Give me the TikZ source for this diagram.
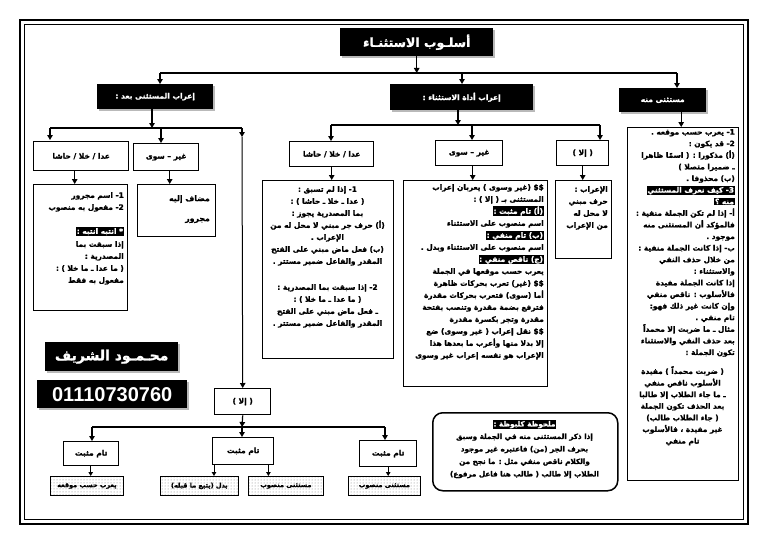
\documentclass[tikz,border=0pt]{standalone}
\usepackage{fontspec}
\newfontfamily\arabicfont[Script=Arabic, BoldFeatures={FakeBold=1.3}]{DejaVu Sans}
\newfontfamily\latinfont{Liberation Sans}
\TeXXeTstate=1
\usetikzlibrary{arrows.meta,patterns,shadows}
\newcommand{\AR}[1]{\beginR #1\endR}
\newcommand{\HL}[1]{{\setlength{\fboxsep}{0.8pt}\colorbox{black}{\textcolor{white}{\beginR #1\endR}}}}
\tikzset{
 arr/.style={-{Triangle[length=5pt,width=5.5pt]}, line width=1.2pt},
 sarr/.style={-{Triangle[length=4pt,width=4.5pt]}, line width=1pt},
 ln/.style={line width=1.2pt},
 bx/.style={draw, line width=1.4pt, fill=white, inner sep=0pt, anchor=north west, font=\arabicfont\bfseries\fontsize{7.5}{12}\selectfont},
 blk/.style={fill=black, text=white, inner sep=0pt, anchor=north west, drop shadow={shadow xshift=2pt, shadow yshift=-2pt, fill=gray!55, opacity=1}},
 tx/.style={inner sep=0pt, font=\arabicfont\bfseries\fontsize{7.4}{12}\selectfont},
 dotbox/.style={draw, line width=0.8pt, pattern=dots, pattern color=gray, inner sep=0pt, anchor=north west, font=\arabicfont\bfseries\fontsize{6.5}{8}\selectfont},
}
\begin{document}
\begin{tikzpicture}[x=1pt,y=-1pt]
\useasboundingbox[fill=white] (0,0) rectangle (768,543);
% frame
\draw[line width=1.5pt] (20,20) rectangle (748,524);
\draw[line width=0.7pt] (24.5,24.5) rectangle (743.5,519.5);
% title
\node[blk, minimum width=153pt, minimum height=28pt, font=\arabicfont\bfseries\fontsize{12.5}{14}\selectfont] (title) at (340,28) {\AR{أسلـوب الاستثنـاء}};
% level 2
\node[blk, minimum width=116pt, minimum height=25pt, font=\arabicfont\bfseries\fontsize{7.5}{9}\selectfont] (B1) at (97,84) {\AR{إعراب المستثنى بعد :}};
\node[blk, minimum width=143pt, minimum height=26pt, font=\arabicfont\bfseries\fontsize{7.5}{9}\selectfont] (B2) at (390,84) {\AR{إعراب أداة الاستثناء :}};
\node[blk, minimum width=87pt, minimum height=24pt, font=\arabicfont\bfseries\fontsize{7.5}{9}\selectfont] (B3) at (619,88) {\AR{مستثنى منه}};
% top bus
\coordinate (busL) at (160,73);
\coordinate (busM) at (462,73);
\coordinate (busR) at (677,73);
\draw[arr] (title.south) -- (title.south |- busL);
\draw[ln] (busL) -- (busR);
\draw[arr] (busL) -- (busL |- B1.north);
\draw[arr] (busM) -- (busM |- B2.north);
\draw[arr] (busR) -- (busR |- B3.north);

% ===== left branch
\node[bx, minimum width=95pt, minimum height=29pt] (L1) at (33,141) {\AR{عدا / خلا / حاشا}};
\node[bx, minimum width=65pt, minimum height=27pt] (L2) at (133,143) {\AR{غير – سوى}};
\node[bx, minimum width=94pt, minimum height=126pt] (L3) at (33,184) {};
\node[bx, minimum width=78pt, minimum height=52pt] (L4) at (137,184) {};
\node[bx, minimum width=56pt, minimum height=26pt] (E) at (214,388) {\AR{( إلا )}};
\coordinate (lbL) at (50,128);
\coordinate (lbT) at (152,128);
\coordinate (lbM) at (161,128);
\coordinate (lbR) at (242,128);
\coordinate (lbR2) at (242,137);
\coordinate (lbLe) at (50,140);
\draw[arr] (lbT |- B1.south) -- (lbT);
\draw[ln] (lbL) -- (lbR);
\draw[arr] (lbL) -- (lbLe);
\draw[arr] (lbM) -- (lbM |- L2.north);
\draw[arr] (lbR) -- (lbR2);
\draw[line width=1pt, -{Triangle[length=5pt,width=5.5pt]}] (lbR2) -- (E.north);
\draw[arr] ([xshift=-6.5pt]L1.south) -- ([xshift=-6.5pt]L1.south |- L3.north);
\draw[arr] ([xshift=3.5pt]L2.south) -- ([xshift=3.5pt]L2.south |- L4.north);
\node[tx, anchor=north east, align=right] (L3t) at (124,192) {\AR{1- اسم مجرور}\\ \AR{2- مفعول به منصوب}\\[12pt] \HL{* انتبه انتبه :}\\[1pt] \AR{إذا سبقت بما}\\ \AR{المصدرية :}\\ \AR{( ما عدا ـ ما خلا ) :}\\ \AR{مفعول به فقط}};
\node[tx, anchor=north east, align=right, font=\arabicfont\bfseries\fontsize{7.8}{12}\selectfont] (L4t) at (210,195) {\AR{مضاف إليه}\\[8pt] \AR{مجرور}};

% ===== middle branch
\node[bx, minimum width=84pt, minimum height=25pt] (M1) at (289,141) {\AR{عدا / خلا / حاشا}};
\node[bx, minimum width=67pt, minimum height=25pt] (G1) at (435,140) {\AR{غير – سوى}};
\node[bx, minimum width=52pt, minimum height=25pt] (I1) at (556,140) {\AR{( إلا )}};
\node[bx, minimum width=131pt, minimum height=178pt] (M2) at (262,180) {};
\node[bx, minimum width=144pt, minimum height=206pt] (G2) at (403,180) {};
\node[bx, minimum width=56pt, minimum height=78pt] (I2) at (555,180) {};
\coordinate (mbT) at (458,125);
\coordinate (mbL) at (331,125);
\coordinate (mbG) at (472,125);
\coordinate (mbR) at (600,125);
\draw[arr] (mbT |- B2.south) -- (mbT);
\draw[ln] (mbL) -- (mbR);
\draw[arr] (mbL) -- (mbL |- M1.north);
\draw[arr] (mbG) -- (mbG |- G1.north);
\draw[arr] (mbR) -- (mbR |- I1.north);
\draw[arr] (M1.south) -- (M1.south |- M2.north);
\draw[arr] ([xshift=3.5pt]G1.south) -- ([xshift=3.5pt]G1.south |- G2.north);
\draw[arr] (I1.south) -- (I1.south |- I2.north);
\node[tx, anchor=north, align=center] (M2t) at (327.5,186) {\AR{1- إذا لم تسبق :}\\ \AR{( عدا ـ خلا ـ حاشا ) :}\\ \AR{بما المصدرية يجوز :}\\ \AR{(أ) حرف جر مبني لا محل له من}\\ \AR{الإعراب .}\\ \AR{(ب) فعل ماض مبني على الفتح}\\ \AR{المقدر والفاعل ضمير مستتر .}\\[14pt] \AR{2- إذا سبقت بما المصدرية :}\\ \AR{( ما عدا ـ ما خلا ) :}\\ \AR{ـ فعل ماض مبني على الفتح}\\ \AR{المقدر والفاعل ضمير مستتر .}};
\node[tx, anchor=north east, align=right] (G2t) at (544,184) {\AR{\$\$ (غير وسوى ) يعربان إعراب}\\ \AR{المستثنى بـ ( إلا ) :}\\ \HL{(أ) تام مثبت :}\\ \AR{اسم منصوب على الاستثناء}\\ \HL{(ب) تام منفي :}\\ \AR{اسم منصوب على الاستثناء وبدل .}\\ \HL{(ج) ناقص منفي :}\\ \AR{يعرب حسب موقعها في الجملة}\\ \AR{\$\$ (غير) تعرب بحركات ظاهرة}\\ \AR{أما (سوى) فتعرب بحركات مقدرة}\\ \AR{فترفع بضمة مقدرة وتنصب بفتحة}\\ \AR{مقدرة وتجر بكسرة مقدرة}\\ \AR{\$\$ نقل إعراب ( غير وسوى) ضع}\\ \AR{إلا بدلا منها وأعرب ما بعدها هذا}\\ \AR{الإعراب هو نفسه إعراب غير وسوى}};
\node[tx, anchor=north east, align=right] (I2t) at (608,186) {\AR{الإعراب :}\\ \AR{حرف مبني}\\ \AR{لا محل له}\\ \AR{من الإعراب}};

% ===== right branch
\node[bx, minimum width=111pt, minimum height=353pt] (R) at (627,127) {};
\draw[arr] ([xshift=18.5pt]B3.south) -- ([xshift=18.5pt]B3.south |- R.north);
\node[tx, anchor=north east, align=right, font=\arabicfont\bfseries\fontsize{7.4}{11.6}\selectfont] (Ra) at (735,129) {\AR{1- يعرب حسب موقعه .}\\ \AR{2- قد يكون :}\\ \AR{(أ) مذكورا : ( اسمًا ظاهرا}\\ \AR{ـ ضميرا متصلا )}\\ \AR{(ب) محذوفا .}\\ \HL{3- كيف نعرف المستثني}\\ \HL{منه ؟}\\ \AR{أ- إذا لم تكن الجملة منفية :}\\ \AR{فالمؤكد أن المستثنى منه}\\ \AR{موجود .}\\ \AR{ب- إذا كانت الجملة منفية :}\\ \AR{من خلال حذف النفي}\\ \AR{والاستثناء :}\\ \AR{إذا كانت الجملة مفيدة}\\ \AR{فالأسلوب :  ناقص منفي}\\ \AR{وإن كانت غير ذلك فهو:}\\ \AR{تام منفي .}\\ \AR{مثال ـ ما ضربت إلا محمداً}\\ \AR{بعد حذف النفي والاستثناء}\\ \AR{تكون الجملة :}};
\node[tx, anchor=north, align=center, font=\arabicfont\bfseries\fontsize{7.4}{11.6}\selectfont] (Rb) at (682.5,366) {\AR{( ضربت محمداً ) مفيدة}\\ \AR{الأسلوب ناقص منفي}\\ \AR{ـ ما جاء الطلاب إلا طالبا}\\ \AR{بعد الحذف تكون الجملة}\\ \AR{( جاء الطلاب طالب)}\\ \AR{غير مفيدة ، فالأسلوب}\\ \AR{تام منفي}};

% ===== name & phone
\node[blk, minimum width=133pt, minimum height=29pt, font=\arabicfont\bfseries\fontsize{14}{16}\selectfont] (name) at (45,342) {\AR{محـمـود الشريف}};
\node[blk, minimum width=150pt, minimum height=28pt, font=\latinfont\bfseries\fontsize{20}{22}\selectfont] (phone) at (37,380) {01110730760};

% ===== bottom subtree
\node[bx, minimum width=55pt, minimum height=24pt] (T1) at (63,441) {\AR{تام مثبت}};
\node[bx, minimum width=61pt, minimum height=27pt] (T2) at (212,437) {\AR{تام مثبت}};
\node[bx, minimum width=57pt, minimum height=26pt] (T3) at (359,440) {\AR{تام مثبت}};
\node[dotbox, minimum width=73pt, minimum height=19pt] (P1) at (50,476) {\AR{يعرب حسب موقعه}};
\node[dotbox, minimum width=78pt, minimum height=19pt] (P2) at (160,476) {\AR{بدل (يتبع ما قبله)}};
\node[dotbox, minimum width=75pt, minimum height=19pt] (P3) at (248,476) {\AR{مستثنى منصوب}};
\node[dotbox, minimum width=72pt, minimum height=19pt] (P4) at (348,476) {\AR{مستثنى منصوب}};
\coordinate (bbL) at (92,427);
\coordinate (bbM) at (242,427);
\coordinate (bbR) at (385,427);
\draw[arr] (E.south) -- (bbM);
\draw[ln] (bbL) -- (bbR);
\draw[arr] (bbL) -- (bbL |- T1.north);
\draw[arr] (bbM) -- (bbM |- T2.north);
\draw[arr] (bbR) -- (bbR |- T3.north);
\draw[sarr] ([xshift=-0.5pt]T1.south) -- ([xshift=-0.5pt]T1.south |- P1.north);
\draw[sarr] ([xshift=2pt]T2.south west) -- ([xshift=2pt]T2.south west |- P2.north);
\draw[sarr] ([xshift=-6pt]T2.south east) -- ([xshift=-6pt]T2.south east |- P3.north);
\draw[sarr] (T3.south) -- (T3.south |- P4.north);

% ===== note
\node[draw, line width=1.5pt, rounded corners=10pt, minimum width=185pt, minimum height=78pt, anchor=north west, inner sep=0pt] (N) at (432,412) {};
\node[tx, anchor=north, align=center, font=\arabicfont\bfseries\fontsize{7.2}{12.5}\selectfont] (Nt) at (524.5,420) {\HL{ملحوظة كلبوظة :}\\ \AR{إذا ذكر المستثنى منه في الجملة وسبق}\\ \AR{بحرف الجر (من) فاعتبره غير موجود}\\ \AR{والكلام ناقص منفي مثل : ما نجح من}\\ \AR{الطلاب إلا طالب  ( طالب هنا فاعل مرفوع)}};
\end{tikzpicture}
\end{document}
